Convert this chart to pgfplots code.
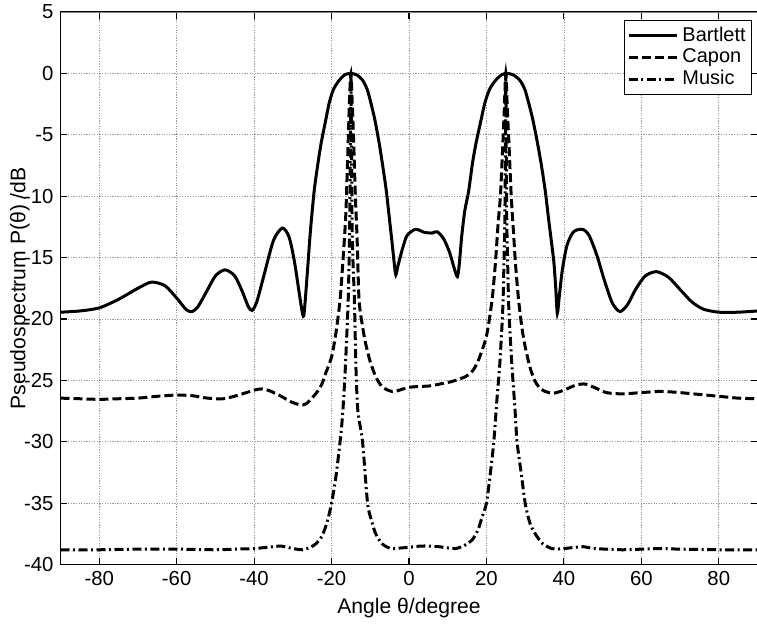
\documentclass[border=0pt]{standalone}
\usepackage{fontspec}
\setmainfont{Liberation Sans}
\usepackage{pgfplots}
\pgfplotsset{compat=1.18}
\begin{document}
\begin{tikzpicture}
\begin{axis}[
  at={(0,0)}, anchor=south west,
  scale only axis,
  width=348.5bp, height=276.25bp,
  xmin=-90, xmax=90, ymin=-40, ymax=5,
  xtick={-80,-60,...,80},
  ytick={-40,-35,...,5},
  grid=major,
  grid style={gray!80, line width=0.35pt, dash pattern=on 0.6pt off 0.7pt},
  axis line style={black, line width=0.6pt},
  tick style={black, line width=0.6pt},
  major tick length=3.5bp,
  tick align=inside,
  font=\fontsize{10}{12}\selectfont,
  tick label style={font=\fontsize{10.2}{12}\selectfont},
  label style={font=\fontsize{10.6}{12.5}\selectfont},
  /pgf/number format/assume math mode=true,
  xlabel={Angle θ/degree},
  ylabel={Pseudospectrum P(θ) /dB},
  xlabel style={at={(axis description cs:0.5,-0.0787)}, anchor=center},
  ylabel style={at={(axis description cs:-0.0581,0.5)}, anchor=center},
  legend style={at={(rel axis cs:0.9928,0.986)}, anchor=north east,
    draw=black, line width=0.5pt, font=\fontsize{10}{12}\selectfont,
    inner sep=1.2bp, row sep=-1.6bp},
  legend cell align=left,
  legend image code/.code={\draw[#1] (0cm,0cm) -- (0.85cm,0cm);},
]
\addplot[black, line width=1.5bp, smooth, tension=0.45] coordinates {
(-90,-19.45) (-85,-19.35) (-80,-19.1) (-75,-18.4) (-70,-17.5) (-66.5,-17.0)
(-63,-17.3) (-60,-18.3) (-57.5,-19.25) (-56,-19.4) (-54.5,-19.0) (-52.5,-17.9)
(-50,-16.5) (-47.5,-16.0) (-45,-16.5) (-43,-17.8) (-41.5,-19.0) (-40.5,-19.3)
(-39.3,-18.6) (-37.5,-16.5) (-35,-13.6) (-32.7,-12.6) (-31,-13.3) (-29.6,-15.3)
(-28.3,-18.0) (-27.6,-19.4) (-27.2,-19.75) (-26.8,-18.5) (-26.2,-16.0) (-25.5,-13.0)
(-24.5,-9.6) (-23.5,-7.3) (-22.7,-5.7) (-21.5,-3.8) (-20.6,-2.4) (-19.5,-1.3)
(-18,-0.55) (-16.5,-0.1) (-15,0) (-13.5,-0.12) (-12,-0.55) (-10.8,-1.3)
(-9.85,-2.4) (-8.8,-3.8) (-7.7,-5.7) (-6.8,-7.5) (-5.85,-9.6) (-5.0,-12.0)
(-4.3,-14.0) (-3.8,-15.5) (-3.4,-16.4) (-2.8,-15.6) (-1.7,-14.3) (-0.5,-13.2)
(1.7,-12.7) (4,-12.95) (6,-13.0) (7.3,-12.9) (9,-13.5) (10.5,-14.6) (11.7,-15.9)
(12.5,-16.55) (13.0,-15.5) (13.6,-13.3) (14.4,-11.2) (15.4,-9.6) (16.4,-7.3)
(17.3,-5.7) (18.6,-3.8) (19.6,-2.4) (20.8,-1.3) (22.4,-0.55) (24,-0.1) (25.3,0)
(26.9,-0.12) (28.6,-0.55) (29.9,-1.3) (30.9,-2.4) (32.0,-3.8) (33.2,-5.7)
(34.2,-7.5) (35.2,-9.6) (36.1,-12.0) (36.9,-14.0) (37.45,-15.5) (37.9,-17.5)
(38.3,-19.55) (38.8,-18.2) (39.6,-16.0) (40.8,-14.0) (42.5,-12.9) (44.8,-12.7)
(46.5,-13.2) (48.5,-14.8) (50.5,-16.9) (52.5,-18.7) (54.5,-19.4) (56.5,-18.8)
(58.5,-17.6) (61,-16.5) (63.9,-16.15) (67,-16.6) (70,-17.6) (73,-18.6)
(76,-19.2) (80,-19.45) (85,-19.45) (90,-19.35)
};
\addlegendentry{Bartlett}
\addplot[black, line width=1.5bp, dash pattern=on 4.5bp off 2bp, smooth, tension=0.45] coordinates {
(-90,-26.45) (-85,-26.5) (-80,-26.55) (-75,-26.5) (-70,-26.45) (-65,-26.3)
(-60,-26.2) (-56,-26.25) (-52,-26.45) (-48,-26.5) (-44,-26.2) (-40,-25.8)
(-38,-25.7) (-36,-25.85) (-33,-26.3) (-30.5,-26.75) (-28,-27.0) (-26.5,-26.9)
(-24.0,-26.06) (-22.5,-25.3) (-21.5,-24.4) (-20,-23.1) (-18.9,-21.2)
(-17.8,-18.45) (-17.0,-15.0) (-16.4,-12.0) (-16.15,-10.0) (-15.65,-5.0)
(-15.35,-2.0) (-15,0) (-14.65,-2.5) (-14.35,-5.0) (-13.85,-10.0) (-13.4,-13.5)
(-12.9,-18.45) (-12.0,-20.6) (-11.2,-22.0) (-10,-23.5) (-8.6,-24.7) (-7.5,-25.3)
(-6.4,-25.65) (-4.5,-25.9) (-3,-25.85) (-1.5,-25.7) (0,-25.57) (2.5,-25.5)
(5.2,-25.46) (8,-25.3) (11,-25.1) (14.6,-24.7) (16.5,-24.2) (18,-23.3)
(20,-21.4) (21.45,-18.45) (22.3,-15.5) (23.0,-12.3) (23.6,-10.0) (24.2,-6.0)
(24.6,-3.0) (25,0) (25.4,-3.0) (25.85,-6.0) (26.4,-10.0) (27.0,-13.0)
(27.5,-15.5) (28.3,-18.45) (29.2,-20.8) (30,-22.26) (31.3,-24.0) (32.6,-25.1)
(34,-25.7) (35.1,-25.9) (37.3,-26.05) (40,-25.8) (43,-25.4) (45.5,-25.3)
(48,-25.6) (51,-26.0) (55,-26.1) (60,-26.0) (65,-25.9) (70,-26.0) (75,-26.15)
(80,-26.3) (85,-26.45) (90,-26.5)
};
\addlegendentry{Capon}
\addplot[black, line width=1.5bp, dash pattern=on 4.5bp off 1.75bp on 1bp off 1.75bp, smooth, tension=0.45] coordinates {
(-90,-38.8) (-80,-38.8) (-70,-38.75) (-60,-38.75) (-50,-38.8) (-45,-38.75)
(-40,-38.7) (-35,-38.55) (-33,-38.5) (-30,-38.7) (-27.5,-38.8) (-25.5,-38.6)
(-24,-38.3) (-22.5,-37.7) (-21.5,-36.9) (-20.7,-36.0) (-20,-35.0) (-18.9,-32.9)
(-17.8,-30.0) (-17.2,-28.0) (-16.6,-25.0) (-16.05,-21.2) (-15.7,-18.45)
(-15.45,-15.0) (-15.3,-12.0) (-15.15,-6.0) (-15,0) (-14.85,-6.0) (-14.7,-12.0)
(-14.5,-15.0) (-14.1,-18.45) (-13.7,-24.0) (-13.2,-27.5) (-12.0,-30.0)
(-10.7,-35.0) (-9.6,-36.5) (-8.6,-37.5) (-7,-38.3) (-5.5,-38.6) (-4.3,-38.7)
(-2,-38.65) (0,-38.6) (3,-38.5) (5,-38.5) (8,-38.56) (10,-38.65) (12,-38.7)
(14,-38.5) (16.3,-38.0) (17.8,-37.2) (18.9,-36.1) (20,-35.0) (21,-32.6)
(21.9,-30.0) (22.7,-26.6) (23.4,-23.9) (24,-20.6) (24.3,-18.45) (24.55,-15.0)
(24.75,-12.0) (24.9,-6.0) (25,0) (25.1,-6.0) (25.25,-12.0) (25.45,-15.0)
(25.7,-18.45) (26,-20.6) (26.6,-23.9) (27.3,-27.0) (27.9,-30.0) (29,-32.6)
(30,-35.0) (31.2,-36.6) (32.6,-37.5) (34.5,-38.3) (36.8,-38.7) (38,-38.75)
(40,-38.7) (43,-38.6) (45,-38.55) (48,-38.7) (55,-38.8) (60,-38.75)
(65,-38.7) (70,-38.75) (80,-38.8) (90,-38.8)
};
\addlegendentry{Music}
\draw[gray, line width=0.8pt] (rel axis cs:0,1) -- (rel axis cs:1,1);
\end{axis}
\pgfresetboundingbox
\path[use as bounding box] (-30.25bp,-31.75bp) rectangle (348.25bp,282.25bp);
\end{tikzpicture}
\end{document}
